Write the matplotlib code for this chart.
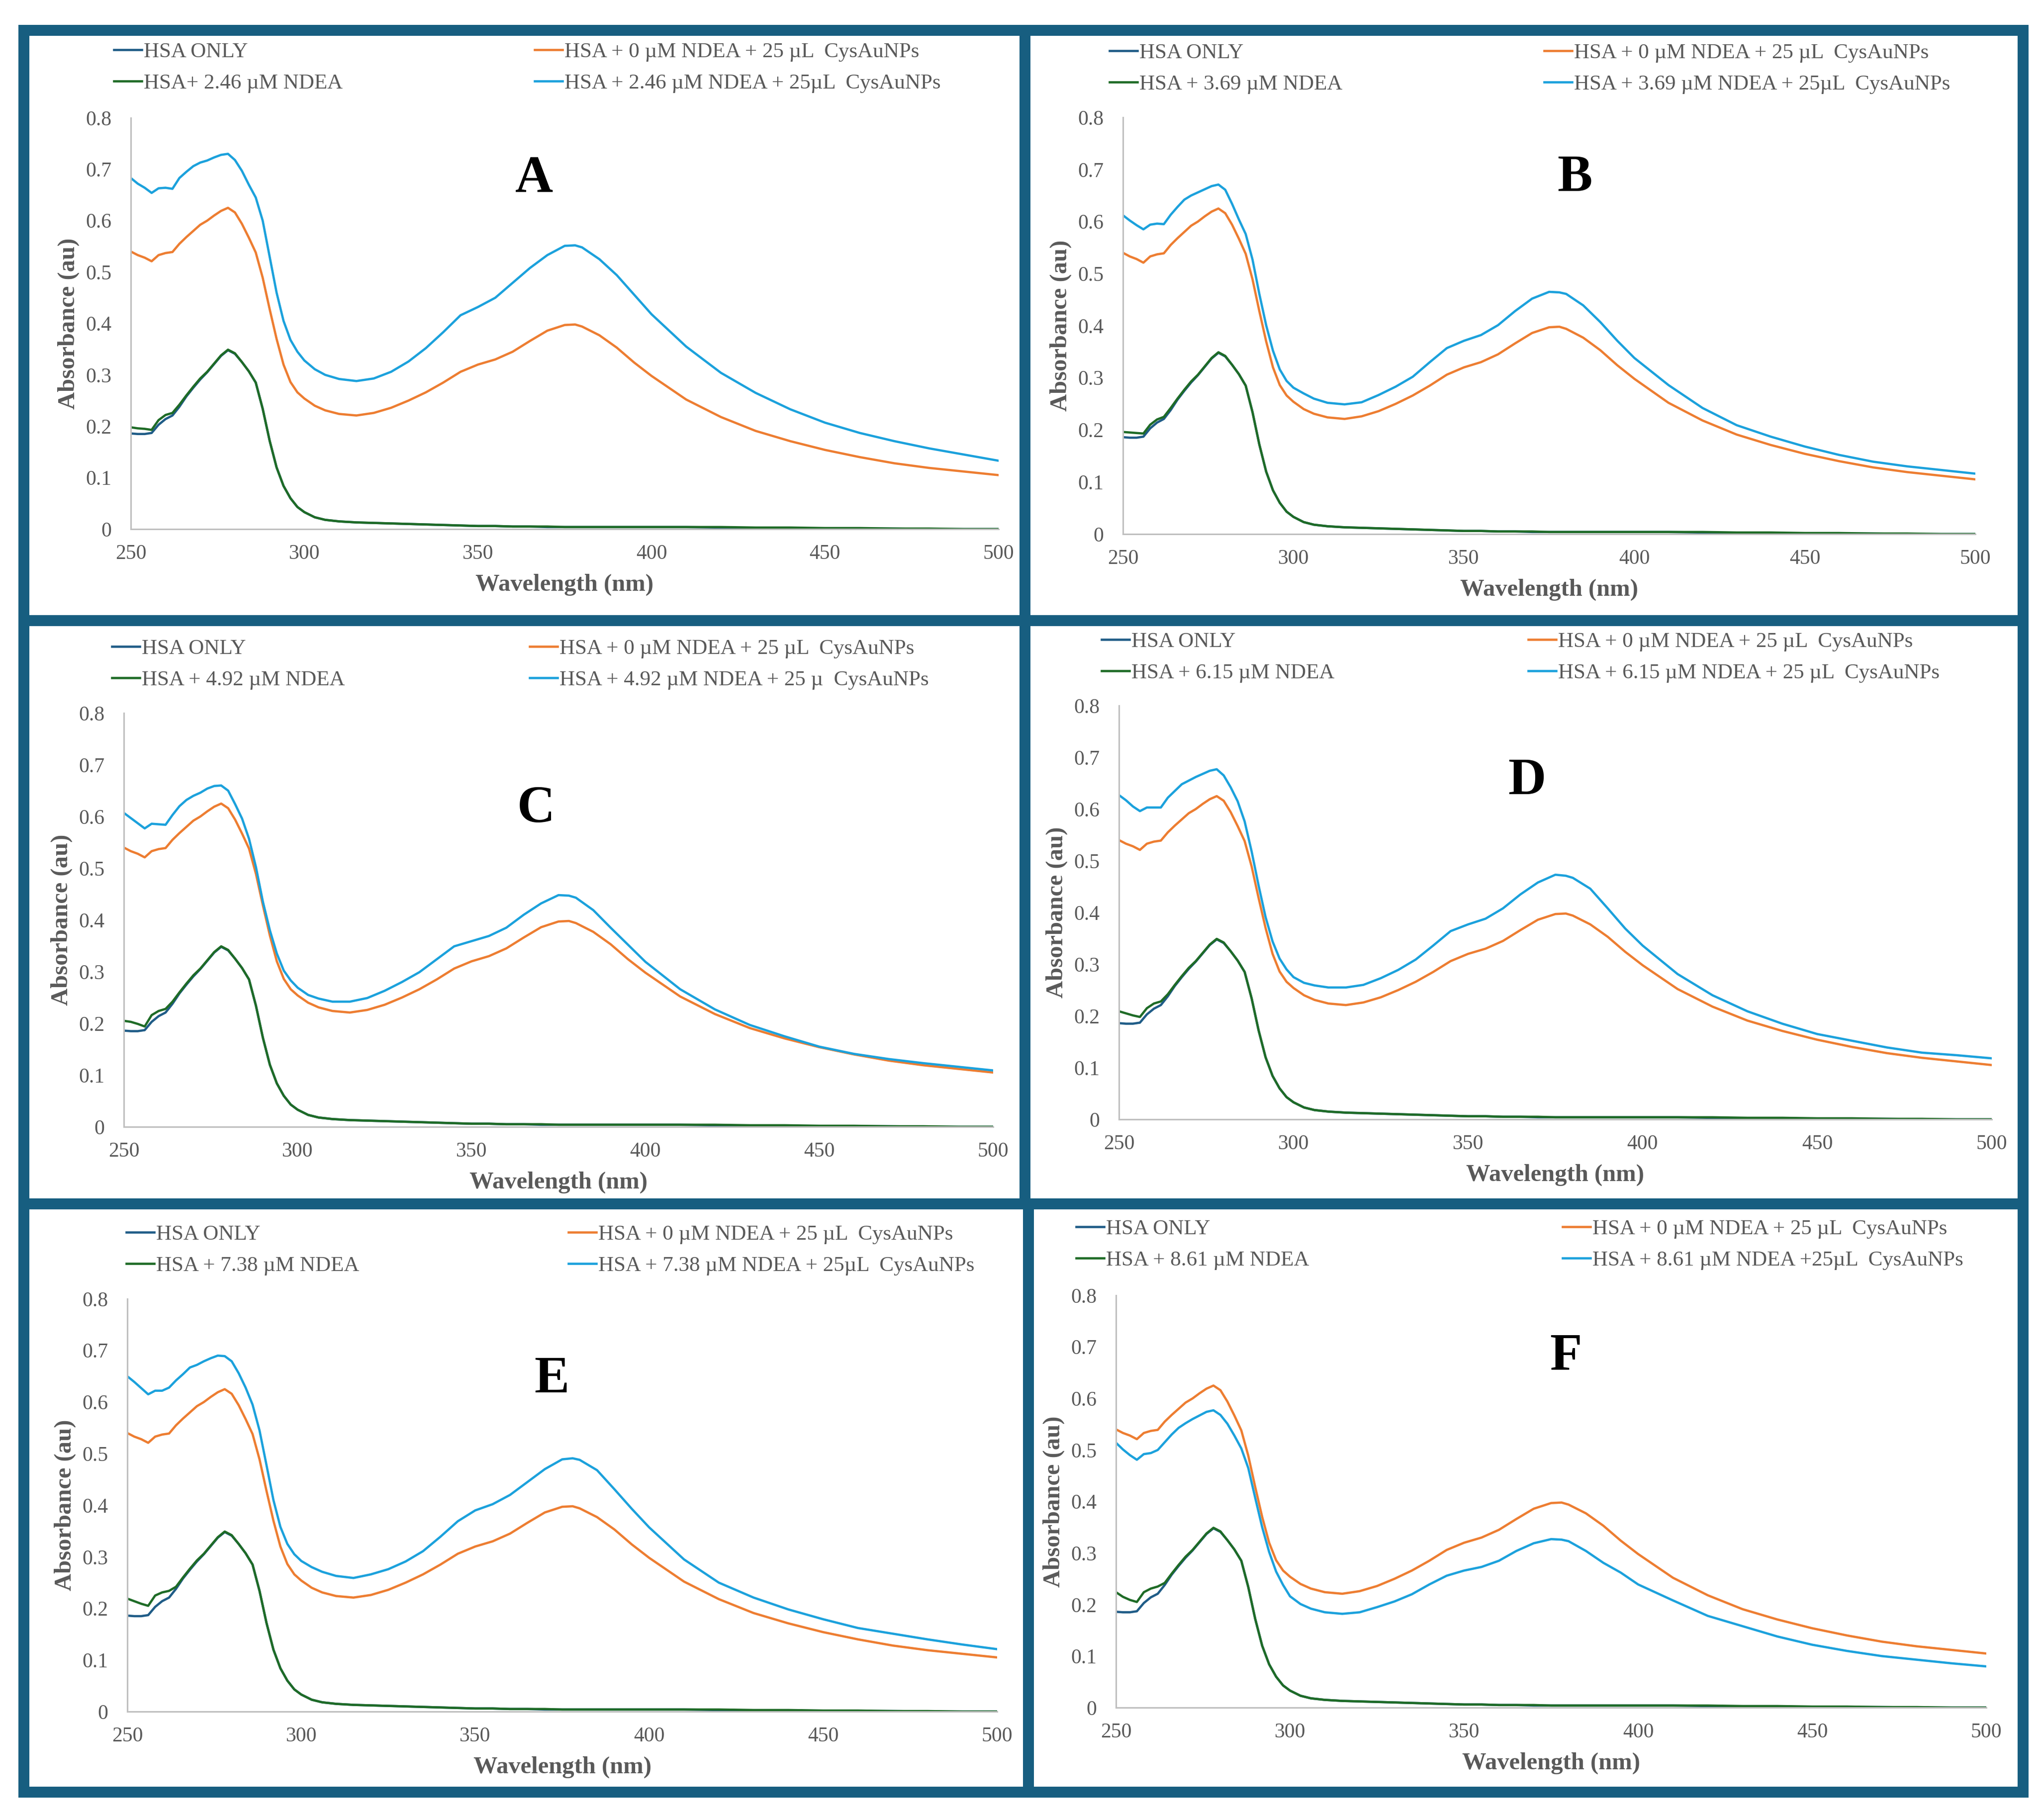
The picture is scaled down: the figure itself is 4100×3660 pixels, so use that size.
import matplotlib
matplotlib.use("Agg")
import matplotlib.pyplot as plt
from matplotlib.lines import Line2D

plt.rcParams["font.family"] = ["Liberation Serif", "DejaVu Serif"]

# ---- data ----
WAVELENGTH = [250, 252, 254, 256, 258, 260, 262, 264, 266, 268,
              270, 272, 274, 276, 278, 280, 282, 284, 286, 288,
              290, 292, 294, 296, 298, 300, 303, 306, 310, 315,
              320, 325, 330, 335, 340, 345, 350, 355, 360, 365,
              370, 375, 378, 380, 385, 390, 395, 400, 410, 420,
              430, 440, 450, 460, 470, 480, 490, 500]

HSA_ONLY = [0.186, 0.185, 0.185, 0.187, 0.203, 0.214, 0.221, 0.238, 0.258, 0.275,
            0.291, 0.305, 0.321, 0.337, 0.348, 0.341, 0.325, 0.307, 0.285, 0.234,
            0.172, 0.120, 0.084, 0.060, 0.043, 0.033, 0.023, 0.018, 0.015, 0.013,
            0.012, 0.011, 0.010, 0.009, 0.008, 0.007, 0.006, 0.006, 0.005, 0.005,
            0.004, 0.004, 0.004, 0.004, 0.004, 0.004, 0.004, 0.004, 0.004, 0.003,
            0.002, 0.002, 0.001, 0.001, 0.001, 0.000, 0.000, 0.000]

HSA_NP_0 = [0.540, 0.533, 0.528, 0.521, 0.533, 0.537, 0.539, 0.555, 0.568, 0.580,
            0.592, 0.600, 0.610, 0.619, 0.625, 0.616, 0.594, 0.567, 0.538, 0.489,
            0.428, 0.370, 0.320, 0.286, 0.266, 0.254, 0.240, 0.231, 0.224, 0.221,
            0.226, 0.236, 0.250, 0.266, 0.285, 0.306, 0.320, 0.330, 0.345, 0.366,
            0.386, 0.397, 0.398, 0.394, 0.377, 0.353, 0.324, 0.298, 0.252, 0.218,
            0.191, 0.171, 0.154, 0.140, 0.128, 0.119, 0.112, 0.105]

# HSA + NDEA: panels differ only over 250-262 nm, the rest is shared
NDEA_START = {
    "A": [0.198, 0.196, 0.195, 0.193, 0.212, 0.222, 0.226],
    "B": [0.196, 0.195, 0.194, 0.193, 0.210, 0.220, 0.225],
    "C": [0.205, 0.203, 0.199, 0.194, 0.216, 0.224, 0.228],
    "D": [0.209, 0.205, 0.201, 0.198, 0.215, 0.224, 0.228],
    "E": [0.219, 0.214, 0.209, 0.205, 0.225, 0.231, 0.234],
    "F": [0.224, 0.215, 0.209, 0.205, 0.224, 0.231, 0.235],
}
NDEA_REST = [0.242, 0.260, 0.277,
             0.293, 0.306, 0.322, 0.338, 0.349, 0.342, 0.325, 0.307, 0.285, 0.234,
             0.172, 0.120, 0.084, 0.060, 0.043, 0.033, 0.023, 0.018, 0.015, 0.013,
             0.012, 0.011, 0.010, 0.009, 0.008, 0.007, 0.006, 0.006, 0.005, 0.005,
             0.005, 0.004, 0.004, 0.004, 0.004, 0.004, 0.004, 0.004, 0.004, 0.004,
             0.003, 0.003, 0.002, 0.002, 0.001, 0.001, 0.000, 0.000]

# HSA + NDEA + 25 uL CysAuNPs
MIX = {
    "A": [0.683, 0.672, 0.664, 0.654, 0.663, 0.664, 0.662, 0.683, 0.695, 0.706,
          0.713, 0.717, 0.723, 0.728, 0.730, 0.718, 0.697, 0.670, 0.645, 0.600,
          0.530, 0.460, 0.405, 0.368, 0.345, 0.328, 0.311, 0.300, 0.292, 0.288,
          0.293, 0.306, 0.326, 0.352, 0.383, 0.416, 0.432, 0.450, 0.479, 0.508,
          0.533, 0.551, 0.552, 0.548, 0.525, 0.494, 0.456, 0.418, 0.355, 0.304,
          0.265, 0.233, 0.207, 0.187, 0.171, 0.157, 0.145, 0.133],
    "B": [0.612, 0.602, 0.593, 0.585, 0.594, 0.596, 0.595, 0.613, 0.628, 0.642,
          0.650, 0.656, 0.662, 0.668, 0.671, 0.661, 0.634, 0.604, 0.576, 0.527,
          0.461, 0.401, 0.352, 0.316, 0.294, 0.281, 0.270, 0.260, 0.252, 0.249,
          0.253, 0.267, 0.283, 0.302, 0.330, 0.357, 0.371, 0.382, 0.401, 0.428,
          0.452, 0.465, 0.464, 0.461, 0.439, 0.407, 0.371, 0.338, 0.286, 0.242,
          0.209, 0.187, 0.168, 0.152, 0.139, 0.130, 0.123, 0.116],
    "C": [0.607, 0.597, 0.587, 0.577, 0.586, 0.585, 0.584, 0.603, 0.620, 0.632,
          0.640, 0.646, 0.654, 0.659, 0.660, 0.650, 0.624, 0.596, 0.557, 0.502,
          0.435, 0.380, 0.335, 0.302, 0.283, 0.269, 0.255, 0.248, 0.242, 0.242,
          0.249, 0.263, 0.280, 0.299, 0.324, 0.349, 0.359, 0.369, 0.385, 0.410,
          0.432, 0.448, 0.447, 0.443, 0.419, 0.385, 0.352, 0.319, 0.266, 0.227,
          0.197, 0.175, 0.155, 0.141, 0.131, 0.123, 0.116, 0.109],
    "D": [0.627, 0.617, 0.605, 0.596, 0.603, 0.603, 0.603, 0.622, 0.635, 0.648,
          0.655, 0.662, 0.668, 0.674, 0.677, 0.665, 0.642, 0.615, 0.576, 0.518,
          0.452, 0.391, 0.344, 0.311, 0.290, 0.275, 0.264, 0.259, 0.255, 0.255,
          0.260, 0.273, 0.289, 0.309, 0.336, 0.364, 0.377, 0.388, 0.408, 0.435,
          0.458, 0.473, 0.471, 0.467, 0.446, 0.408, 0.369, 0.336, 0.281, 0.240,
          0.209, 0.185, 0.165, 0.152, 0.139, 0.129, 0.124, 0.118],
    "E": [0.650, 0.639, 0.627, 0.615, 0.622, 0.622, 0.628, 0.642, 0.654, 0.667,
          0.672, 0.679, 0.685, 0.690, 0.689, 0.679, 0.656, 0.628, 0.595, 0.545,
          0.478, 0.410, 0.358, 0.325, 0.305, 0.292, 0.280, 0.271, 0.263, 0.259,
          0.266, 0.276, 0.291, 0.311, 0.339, 0.369, 0.390, 0.402, 0.420, 0.445,
          0.470, 0.489, 0.491, 0.488, 0.468, 0.431, 0.393, 0.357, 0.295, 0.250,
          0.221, 0.198, 0.179, 0.162, 0.151, 0.140, 0.130, 0.121],
    "F": [0.514, 0.501, 0.490, 0.481, 0.492, 0.494, 0.500, 0.515, 0.530, 0.543,
          0.552, 0.560, 0.567, 0.574, 0.577, 0.568, 0.551, 0.528, 0.503, 0.465,
          0.407, 0.350, 0.302, 0.264, 0.238, 0.216, 0.201, 0.192, 0.185, 0.182,
          0.185, 0.195, 0.206, 0.220, 0.239, 0.256, 0.266, 0.273, 0.285, 0.304,
          0.319, 0.327, 0.326, 0.323, 0.304, 0.281, 0.262, 0.239, 0.208, 0.178,
          0.158, 0.138, 0.122, 0.110, 0.100, 0.093, 0.086, 0.080],
}

LABEL_HSA = "HSA ONLY"
LABEL_NP0 = "HSA + 0 µM NDEA + 25 µL  CysAuNPs"
NDEA_LABELS = {
    "A": "HSA+ 2.46 µM NDEA",
    "B": "HSA + 3.69 µM NDEA",
    "C": "HSA + 4.92 µM NDEA",
    "D": "HSA + 6.15 µM NDEA",
    "E": "HSA + 7.38 µM NDEA",
    "F": "HSA + 8.61 µM NDEA",
}
MIX_LABELS = {
    "A": "HSA + 2.46 µM NDEA + 25µL  CysAuNPs",
    "B": "HSA + 3.69 µM NDEA + 25µL  CysAuNPs",
    "C": "HSA + 4.92 µM NDEA + 25 µ  CysAuNPs",
    "D": "HSA + 6.15 µM NDEA + 25 µL  CysAuNPs",
    "E": "HSA + 7.38 µM NDEA + 25µL  CysAuNPs",
    "F": "HSA + 8.61 µM NDEA +25µL  CysAuNPs",
}
X_TICKS = [250, 300, 350, 400, 450, 500]
Y_TICKS = [0, 0.1, 0.2, 0.3, 0.4, 0.5, 0.6, 0.7, 0.8]
Y_TICK_LABELS = ["0", "0.1", "0.2", "0.3", "0.4", "0.5", "0.6", "0.7", "0.8"]

# ---- layout (pixels of the 4100 x 3660 picture) ----
W, H = 4100, 3660
PANELS = [
    ("A", (263, 237, 2008, 1064), (229, 1075, 136), (1074, 360)),
    ("B", (2258, 236, 3972, 1074), (2231, 3105, 138), (3166, 359)),
    ("C", (249, 1434, 1997, 2266), (225, 1065, 1336), (1078, 1628)),
    ("D", (2250, 1419, 4005, 2251), (2215, 3073, 1322), (3070, 1571)),
    ("E", (256, 2612, 2005, 3442), (254, 1143, 2514), (1109, 2774)),
    ("F", (2244, 2605, 3994, 3434), (2164, 3142, 2503), (3148, 2729)),
]

C_HSA = "#1f5c87"
C_NP0 = "#ed7d31"
C_NDEA = "#1e6b26"
C_MIX = "#1ba1dc"
FRAME = "#175e80"
TEXT = "#595959"
LW = 3.3

fig = plt.figure(figsize=(W / 100, H / 100), dpi=100)
fig.patch.set_facecolor("white")


def fx(x):
    return x / W


def fy(y):
    return 1 - y / H


for key, (left, top, right, bottom), (leg1_x, leg2_x, leg_y), (lx, ly) in PANELS:
    ax = fig.add_axes([fx(left), fy(bottom), (right - left) / W, (bottom - top) / H])
    ndea = NDEA_START[key] + NDEA_REST

    h_hsa, = ax.plot(WAVELENGTH, HSA_ONLY, color=C_HSA, lw=LW)
    h_np0, = ax.plot(WAVELENGTH, HSA_NP_0, color=C_NP0, lw=LW)
    h_ndea, = ax.plot(WAVELENGTH, ndea, color=C_NDEA, lw=LW)
    h_mix, = ax.plot(WAVELENGTH, MIX[key], color=C_MIX, lw=LW)

    ax.set_xlim(250, 500)
    ax.set_ylim(0, 0.8)
    ax.set_xticks(X_TICKS)
    ax.set_yticks(Y_TICKS)
    ax.set_yticklabels(Y_TICK_LABELS)
    ax.tick_params(length=0, labelsize=30, labelcolor=TEXT)
    ax.tick_params(axis="x", pad=22)
    ax.tick_params(axis="y", pad=28)
    for side in ("top", "right"):
        ax.spines[side].set_visible(False)
    for side in ("left", "bottom"):
        ax.spines[side].set_color("#bfbfbf")
        ax.spines[side].set_linewidth(2.2)
    ax.set_zorder(2)

    ax.set_xlabel("Wavelength (nm)", fontsize=35, fontweight="bold", color=TEXT)
    ax.xaxis.set_label_coords(0.5, -112 / (bottom - top))
    ax.xaxis.label.set_va("center")
    ax.set_ylabel("Absorbance (au)", fontsize=35, fontweight="bold", color=TEXT)
    ax.yaxis.set_label_coords(-125 / (right - left), 0.5)
    ax.yaxis.label.set_va("center")

    fig.text(fx(lx), fy(ly), key, fontsize=76, fontweight="bold",
             ha="center", va="center", color="black")

    leg_kw = dict(frameon=False, fontsize=31, handlelength=1.3, handletextpad=0.1,
                  labelspacing=0.55, borderpad=0, borderaxespad=0, loc="center left",
                  labelcolor=TEXT, bbox_transform=fig.transFigure)
    fig.legend([h_hsa, h_ndea], [LABEL_HSA, NDEA_LABELS[key]],
               bbox_to_anchor=(fx(leg1_x), fy(leg_y)), **leg_kw)
    fig.legend([h_np0, h_mix], [LABEL_NP0, MIX_LABELS[key]],
               bbox_to_anchor=(fx(leg2_x), fy(leg_y)), **leg_kw)

# dark frame around the six panels
FRAME_W = 22 * 72 / 100
segments = [
    ((48, 61), (4068, 61)),
    ((48, 1248), (4068, 1248)),
    ((48, 2421), (4068, 2421)),
    ((48, 3604), (4068, 3604)),
    ((48, 61), (48, 3604)),
    ((4068, 61), (4068, 3604)),
    ((2061, 61), (2061, 2421)),
    ((2068, 2421), (2068, 3604)),
]
for (x0, y0), (x1, y1) in segments:
    fig.add_artist(Line2D([fx(x0), fx(x1)], [fy(y0), fy(y1)], transform=fig.transFigure,
                          color=FRAME, lw=FRAME_W, solid_capstyle="projecting", zorder=5))

fig.savefig("out.png", dpi=100, facecolor="white")
